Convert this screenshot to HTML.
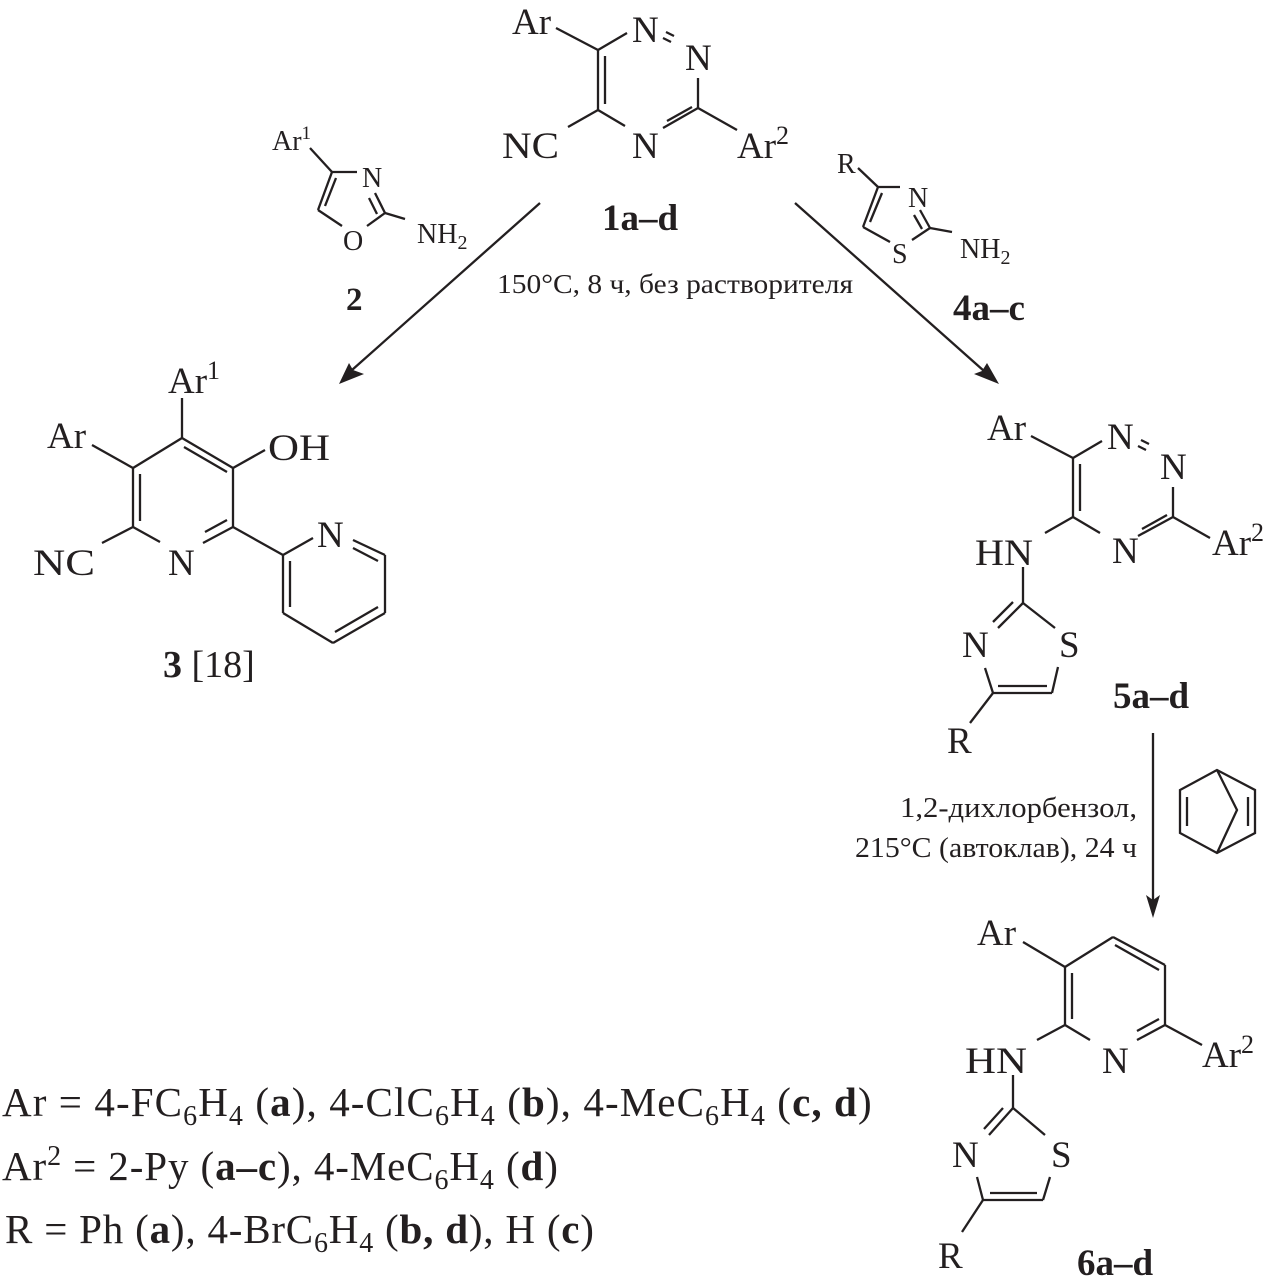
<!DOCTYPE html>
<html><head><meta charset="utf-8"><style>
html,body{margin:0;padding:0;background:#fff;}
svg{display:block;}
text{font-family:"Liberation Serif","DejaVu Serif",serif;fill:#231f20;}
.b{font-weight:bold;}
</style></head><body>
<svg width="1268" height="1287" viewBox="0 0 1268 1287" xmlns="http://www.w3.org/2000/svg">
<g stroke="#231f20" stroke-width="2.3" fill="none" stroke-linecap="butt">
<!-- Structure 1 -->
<line x1="556" y1="28" x2="598" y2="50"/>
<line x1="598" y1="50" x2="627" y2="33"/>
<line x1="598" y1="50" x2="598" y2="110"/>
<line x1="605" y1="56" x2="605" y2="104"/>
<line x1="598" y1="110" x2="625" y2="126"/>
<line x1="663" y1="128" x2="698" y2="108"/>
<line x1="667" y1="121" x2="692" y2="107"/>
<line x1="698" y1="108" x2="698" y2="78"/>
<line x1="698" y1="108" x2="737" y2="130"/>
<line x1="598" y1="110" x2="568" y2="127"/>
<line x1="663" y1="38" x2="671" y2="42"/>
<line x1="666" y1="32" x2="674" y2="36"/>

<!-- arrows -->
<line x1="540" y1="203" x2="352" y2="370"/>
<line x1="795" y1="203" x2="984" y2="371"/>
<line x1="1153" y1="733" x2="1153" y2="900"/>

<!-- Oxazole 2 -->
<line x1="310" y1="148" x2="332" y2="172"/>
<line x1="332" y1="172" x2="357" y2="172"/>
<line x1="375" y1="193" x2="385" y2="213"/>
<line x1="369" y1="198" x2="377" y2="214"/>
<line x1="385" y1="213" x2="405" y2="219"/>
<line x1="385" y1="213" x2="367" y2="226"/>
<line x1="342" y1="226" x2="318" y2="210"/>
<line x1="318" y1="210" x2="332" y2="172"/>
<line x1="325" y1="206" x2="336" y2="178"/>

<!-- Thiazole 4 -->
<line x1="858" y1="168" x2="878" y2="187"/>
<line x1="878" y1="187" x2="900" y2="187"/>
<line x1="920" y1="210" x2="930" y2="228"/>
<line x1="914" y1="215" x2="922" y2="229"/>
<line x1="930" y1="228" x2="952" y2="232"/>
<line x1="930" y1="228" x2="912" y2="240"/>
<line x1="890" y1="242" x2="863" y2="227"/>
<line x1="863" y1="227" x2="878" y2="187"/>
<line x1="870" y1="222" x2="882" y2="193"/>

<!-- Structure 3 -->
<line x1="182" y1="398" x2="182" y2="438"/>
<line x1="182" y1="438" x2="233" y2="468"/>
<line x1="184" y1="447" x2="227" y2="472"/>
<line x1="233" y1="468" x2="265" y2="450"/>
<line x1="233" y1="468" x2="233" y2="527"/>
<line x1="233" y1="527" x2="203" y2="543"/>
<line x1="227" y1="520" x2="205" y2="532"/>
<line x1="160" y1="542" x2="133" y2="527"/>
<line x1="133" y1="527" x2="133" y2="468"/>
<line x1="140" y1="521" x2="140" y2="474"/>
<line x1="133" y1="468" x2="182" y2="438"/>
<line x1="133" y1="468" x2="92" y2="445"/>
<line x1="133" y1="527" x2="102" y2="543"/>
<line x1="233" y1="527" x2="283" y2="555"/>
<line x1="283" y1="555" x2="313" y2="538"/>
<line x1="353" y1="540" x2="385" y2="555"/>
<line x1="353" y1="548" x2="378" y2="561"/>
<line x1="385" y1="555" x2="385" y2="613"/>
<line x1="385" y1="613" x2="333" y2="643"/>
<line x1="378" y1="607" x2="335" y2="632"/>
<line x1="333" y1="643" x2="283" y2="613"/>
<line x1="283" y1="613" x2="283" y2="555"/>
<line x1="290" y1="607" x2="290" y2="561"/>

<!-- Structure 5 -->
<line x1="1031" y1="436" x2="1073" y2="458"/>
<line x1="1073" y1="458" x2="1102" y2="441"/>
<line x1="1073" y1="458" x2="1073" y2="517"/>
<line x1="1080" y1="464" x2="1080" y2="511"/>
<line x1="1073" y1="517" x2="1100" y2="533"/>
<line x1="1138" y1="536" x2="1173" y2="517"/>
<line x1="1142" y1="529" x2="1167" y2="515"/>
<line x1="1173" y1="517" x2="1173" y2="487"/>
<line x1="1173" y1="517" x2="1210" y2="538"/>
<line x1="1138" y1="446" x2="1146" y2="450"/>
<line x1="1141" y1="440" x2="1149" y2="444"/>
<line x1="1073" y1="517" x2="1045" y2="533"/>
<line x1="1023" y1="567" x2="1023" y2="603"/>
<line x1="1023" y1="603" x2="1055" y2="628"/>
<line x1="1058" y1="667" x2="1052" y2="693"/>
<line x1="1052" y1="693" x2="993" y2="693"/>
<line x1="1047" y1="686" x2="998" y2="686"/>
<line x1="993" y1="693" x2="985" y2="668"/>
<line x1="998" y1="628" x2="1023" y2="603"/>
<line x1="993" y1="622" x2="1013" y2="602"/>
<line x1="993" y1="693" x2="970" y2="723"/>

<!-- Norbornadiene -->
<polygon points="1217,770 1180,790 1180,833 1217,853 1255,833 1255,790"/>
<polyline points="1217,770 1237,810 1217,853"/>
<line x1="1187" y1="797" x2="1187" y2="826"/>
<line x1="1248" y1="797" x2="1248" y2="826"/>

<!-- Structure 6 -->
<line x1="1023" y1="942" x2="1065" y2="967"/>
<line x1="1065" y1="967" x2="1113" y2="937"/>
<line x1="1113" y1="937" x2="1165" y2="965"/>
<line x1="1115" y1="945" x2="1159" y2="970"/>
<line x1="1165" y1="965" x2="1165" y2="1025"/>
<line x1="1165" y1="1025" x2="1137" y2="1040"/>
<line x1="1159" y1="1019" x2="1137" y2="1031"/>
<line x1="1090" y1="1040" x2="1065" y2="1025"/>
<line x1="1065" y1="1025" x2="1065" y2="967"/>
<line x1="1072" y1="1019" x2="1072" y2="973"/>
<line x1="1165" y1="1025" x2="1202" y2="1045"/>
<line x1="1065" y1="1025" x2="1037" y2="1040"/>
<line x1="1013" y1="1075" x2="1013" y2="1108"/>
<line x1="1013" y1="1108" x2="1045" y2="1135"/>
<line x1="1050" y1="1177" x2="1043" y2="1200"/>
<line x1="1043" y1="1200" x2="983" y2="1200"/>
<line x1="1037" y1="1193" x2="990" y2="1193"/>
<line x1="983" y1="1200" x2="977" y2="1177"/>
<line x1="989" y1="1135" x2="1013" y2="1108"/>
<line x1="984" y1="1129" x2="1003" y2="1108"/>
<line x1="983" y1="1200" x2="962" y2="1232"/>
</g>

<!-- arrowheads -->
<g fill="#231f20" stroke="none">
<polygon points="339,384 349,363 353,370 364,374"/>
<polygon points="999,384 974,374 982,371 987,363"/>
<polygon points="1153,918 1146,895 1153,900 1160,895"/>
</g>

<!-- Structure 1 labels -->
<text x="512" y="34" font-size="37">Ar</text>
<text x="632" y="42" font-size="37">N</text>
<text x="685" y="70" font-size="37">N</text>
<text x="502" y="158" font-size="37" textLength="57" lengthAdjust="spacingAndGlyphs">NC</text>
<text x="632" y="158" font-size="37">N</text>
<text x="737" y="158" font-size="37">Ar<tspan font-size="26" dy="-14">2</tspan></text>
<text x="602" y="230" font-size="37" class="b">1a–d</text>

<!-- Oxazole labels -->
<text x="272" y="150" font-size="28">Ar<tspan font-size="19" dy="-11">1</tspan></text>
<text x="362" y="187" font-size="28">N</text>
<text x="417" y="243" font-size="28">NH<tspan font-size="20" dy="6">2</tspan></text>
<text x="343" y="250" font-size="28">O</text>
<text x="346" y="310" font-size="33" class="b">2</text>

<!-- Thiazole 4 labels -->
<text x="837" y="173" font-size="28">R</text>
<text x="908" y="207" font-size="28">N</text>
<text x="960" y="258" font-size="28">NH<tspan font-size="20" dy="6">2</tspan></text>
<text x="892" y="263" font-size="28">S</text>
<text x="953" y="320" font-size="37" class="b">4a–c</text>

<!-- conditions -->
<text x="497" y="293" font-size="27" textLength="356" lengthAdjust="spacingAndGlyphs">150°C, 8 ч, без растворителя</text>

<!-- Structure 3 labels -->
<text x="168" y="393" font-size="37">Ar<tspan font-size="26" dy="-14">1</tspan></text>
<text x="268" y="460" font-size="37" textLength="62" lengthAdjust="spacingAndGlyphs">OH</text>
<text x="47" y="448" font-size="37">Ar</text>
<text x="33" y="575" font-size="37" textLength="62" lengthAdjust="spacingAndGlyphs">NC</text>
<text x="168" y="575" font-size="37">N</text>
<text x="317" y="547" font-size="37">N</text>
<text x="163" y="677" font-size="38"><tspan class="b">3</tspan> [18]</text>

<!-- Structure 5 labels -->
<text x="987" y="440" font-size="37">Ar</text>
<text x="1107" y="449" font-size="37">N</text>
<text x="1160" y="479" font-size="37">N</text>
<text x="1112" y="563" font-size="37">N</text>
<text x="1212" y="555" font-size="37">Ar<tspan font-size="26" dy="-14">2</tspan></text>
<text x="975" y="565" font-size="37" textLength="58" lengthAdjust="spacingAndGlyphs">HN</text>
<text x="1059" y="657" font-size="37">S</text>
<text x="962" y="657" font-size="37">N</text>
<text x="947" y="753" font-size="37">R</text>
<text x="1113" y="708" font-size="37" class="b">5a–d</text>

<!-- conditions 2 -->
<text x="1137" y="817" font-size="28" text-anchor="end" textLength="237" lengthAdjust="spacingAndGlyphs">1,2-дихлорбензол,</text>
<text x="1137" y="857" font-size="28" text-anchor="end" textLength="282" lengthAdjust="spacingAndGlyphs">215°C (автоклав), 24 ч</text>

<!-- Structure 6 labels -->
<text x="977" y="945" font-size="37">Ar</text>
<text x="1102" y="1073" font-size="37">N</text>
<text x="1202" y="1067" font-size="37">Ar<tspan font-size="26" dy="-14">2</tspan></text>
<text x="965" y="1073" font-size="37" textLength="62" lengthAdjust="spacingAndGlyphs">HN</text>
<text x="1051" y="1167" font-size="37">S</text>
<text x="952" y="1167" font-size="37">N</text>
<text x="938" y="1268" font-size="37">R</text>
<text x="1077" y="1275" font-size="37" class="b">6a–d</text>

<!-- Legend -->
<text x="2" y="1116" font-size="41" letter-spacing="1.1">Ar = 4-FC<tspan font-size="28" dy="9">6</tspan><tspan dy="-9">H</tspan><tspan font-size="28" dy="9">4</tspan><tspan dy="-9"> (</tspan><tspan class="b">a</tspan>), 4-ClC<tspan font-size="28" dy="9">6</tspan><tspan dy="-9">H</tspan><tspan font-size="28" dy="9">4</tspan><tspan dy="-9"> (</tspan><tspan class="b">b</tspan>), 4-MeC<tspan font-size="28" dy="9">6</tspan><tspan dy="-9">H</tspan><tspan font-size="28" dy="9">4</tspan><tspan dy="-9"> (</tspan><tspan class="b">c, d</tspan>)</text>
<text x="2" y="1180" font-size="41" letter-spacing="0.9">Ar<tspan font-size="28" dy="-15">2</tspan><tspan dy="15"> = 2-Py (</tspan><tspan class="b">a–c</tspan>), 4-MeC<tspan font-size="28" dy="9">6</tspan><tspan dy="-9">H</tspan><tspan font-size="28" dy="9">4</tspan><tspan dy="-9"> (</tspan><tspan class="b">d</tspan>)</text>
<text x="5" y="1243" font-size="41" letter-spacing="0.8">R = Ph (<tspan class="b">a</tspan>), 4-BrC<tspan font-size="28" dy="9">6</tspan><tspan dy="-9">H</tspan><tspan font-size="28" dy="9">4</tspan><tspan dy="-9"> (</tspan><tspan class="b">b, d</tspan>), H (<tspan class="b">c</tspan>)</text>
</svg>
</body></html>
